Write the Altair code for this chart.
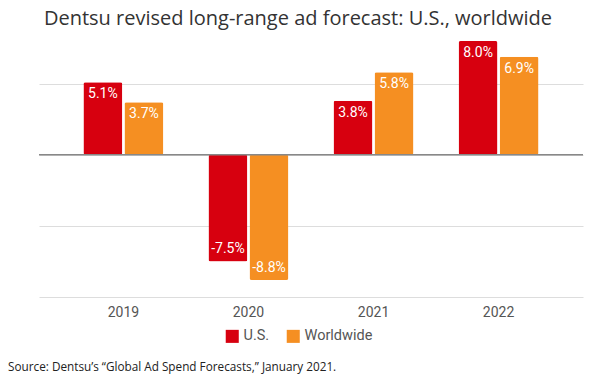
import altair as alt
import pandas as pd

years = ["2019", "2020", "2021", "2022"]
us_values = [5.1, -7.5, 3.8, 8.0]
ww_values = [3.7, -8.8, 5.8, 6.9]
series_names = ["U.S.", "Worldwide"]
colors = ["#d7000f", "#f58f22"]
title_text = "Dentsu revised long-range ad forecast: U.S., worldwide"
source_text = "Source: Dentsu\u2019s \u201cGlobal Ad Spend Forecasts,\u201d January 2021."

rows = []
for y, u, w in zip(years, us_values, ww_values):
    rows.append({"year": y, "series": series_names[0], "value": u})
    rows.append({"year": y, "series": series_names[1], "value": w})
df = pd.DataFrame(rows)

label_expr = "(datum.value < 0 ? '-' : '') + format(abs(datum.value), '.1f') + '%'"

x_enc = alt.X("year:N", sort=years, title=None,
              scale=alt.Scale(paddingInner=0.36, paddingOuter=0.355),
              axis=alt.Axis(labelAngle=0, ticks=False, domain=False, grid=False,
                            labelFont="Roboto", labelFontSize=14, labelColor="#555555",
                            labelPadding=8))
xo_enc = alt.XOffset("series:N", sort=series_names, scale=alt.Scale(paddingInner=0.05))
y_scale = alt.Scale(domain=[-10, 8], nice=False, zero=True)
y_enc = alt.Y("value:Q", scale=y_scale, title=None,
              axis=alt.Axis(values=[-10, -5, 0, 5], labels=False, ticks=False, domain=False,
                            grid=True, gridColor="#dddddd", gridWidth=1))
color_enc = alt.Color("series:N", sort=series_names,
                      scale=alt.Scale(domain=series_names, range=colors),
                      legend=alt.Legend(title=None, orient="none", direction="horizontal",
                                        legendX=186, legendY=288, symbolType="square",
                                        symbolSize=170, symbolStrokeWidth=0,
                                        labelFont="Roboto", labelFontSize=14.5,
                                        labelColor="#555555", columnPadding=16,
                                        symbolOffset=0))

base = alt.Chart(df)

bars = base.mark_bar(cornerRadius=2).encode(
    x=x_enc, xOffset=xo_enc, y=y_enc, color=color_enc
)

zero = alt.Chart(pd.DataFrame({"z": [0]})).mark_rule(color="#888888", strokeWidth=1.5).encode(
    y=alt.Y("z:Q", scale=y_scale)
)

pos_labels = base.transform_filter("datum.value >= 0").transform_calculate(
    label=label_expr
).mark_text(color="white", font="Roboto", fontSize=14, baseline="top", dy=5).encode(
    x=alt.X("year:N", sort=years), xOffset=alt.XOffset("series:N", sort=series_names),
    y=alt.Y("value:Q", scale=y_scale), text="label:N"
)

neg_labels = base.transform_filter("datum.value < 0").transform_calculate(
    label=label_expr
).mark_text(color="white", font="Roboto", fontSize=14, baseline="bottom", dy=-5).encode(
    x=alt.X("year:N", sort=years), xOffset=alt.XOffset("series:N", sort=series_names),
    y=alt.Y("value:Q", scale=y_scale), text="label:N"
)

title = alt.Chart(pd.DataFrame({"t": [title_text]})).mark_text(
    font="Open Sans", fontSize=20, color="#333333", align="center", baseline="alphabetic"
).encode(x=alt.value(259), y=alt.value(-16), text="t:N")

source = alt.Chart(pd.DataFrame({"t": [source_text]})).mark_text(
    font="Open Sans", fontSize=11.75, color="#222222", align="left", baseline="middle"
).encode(x=alt.value(-31), y=alt.value(326), text="t:N")

chart = alt.layer(bars, zero, pos_labels, neg_labels, title, source).properties(
    width=544, height=256,
    autosize=alt.AutoSizeParams(type="none"),
    padding={"left": 31, "top": 33, "right": 9, "bottom": 78},
).configure_view(stroke=None)

chart.save("out.html", embed_options={"renderer": "svg", "actions": False})
